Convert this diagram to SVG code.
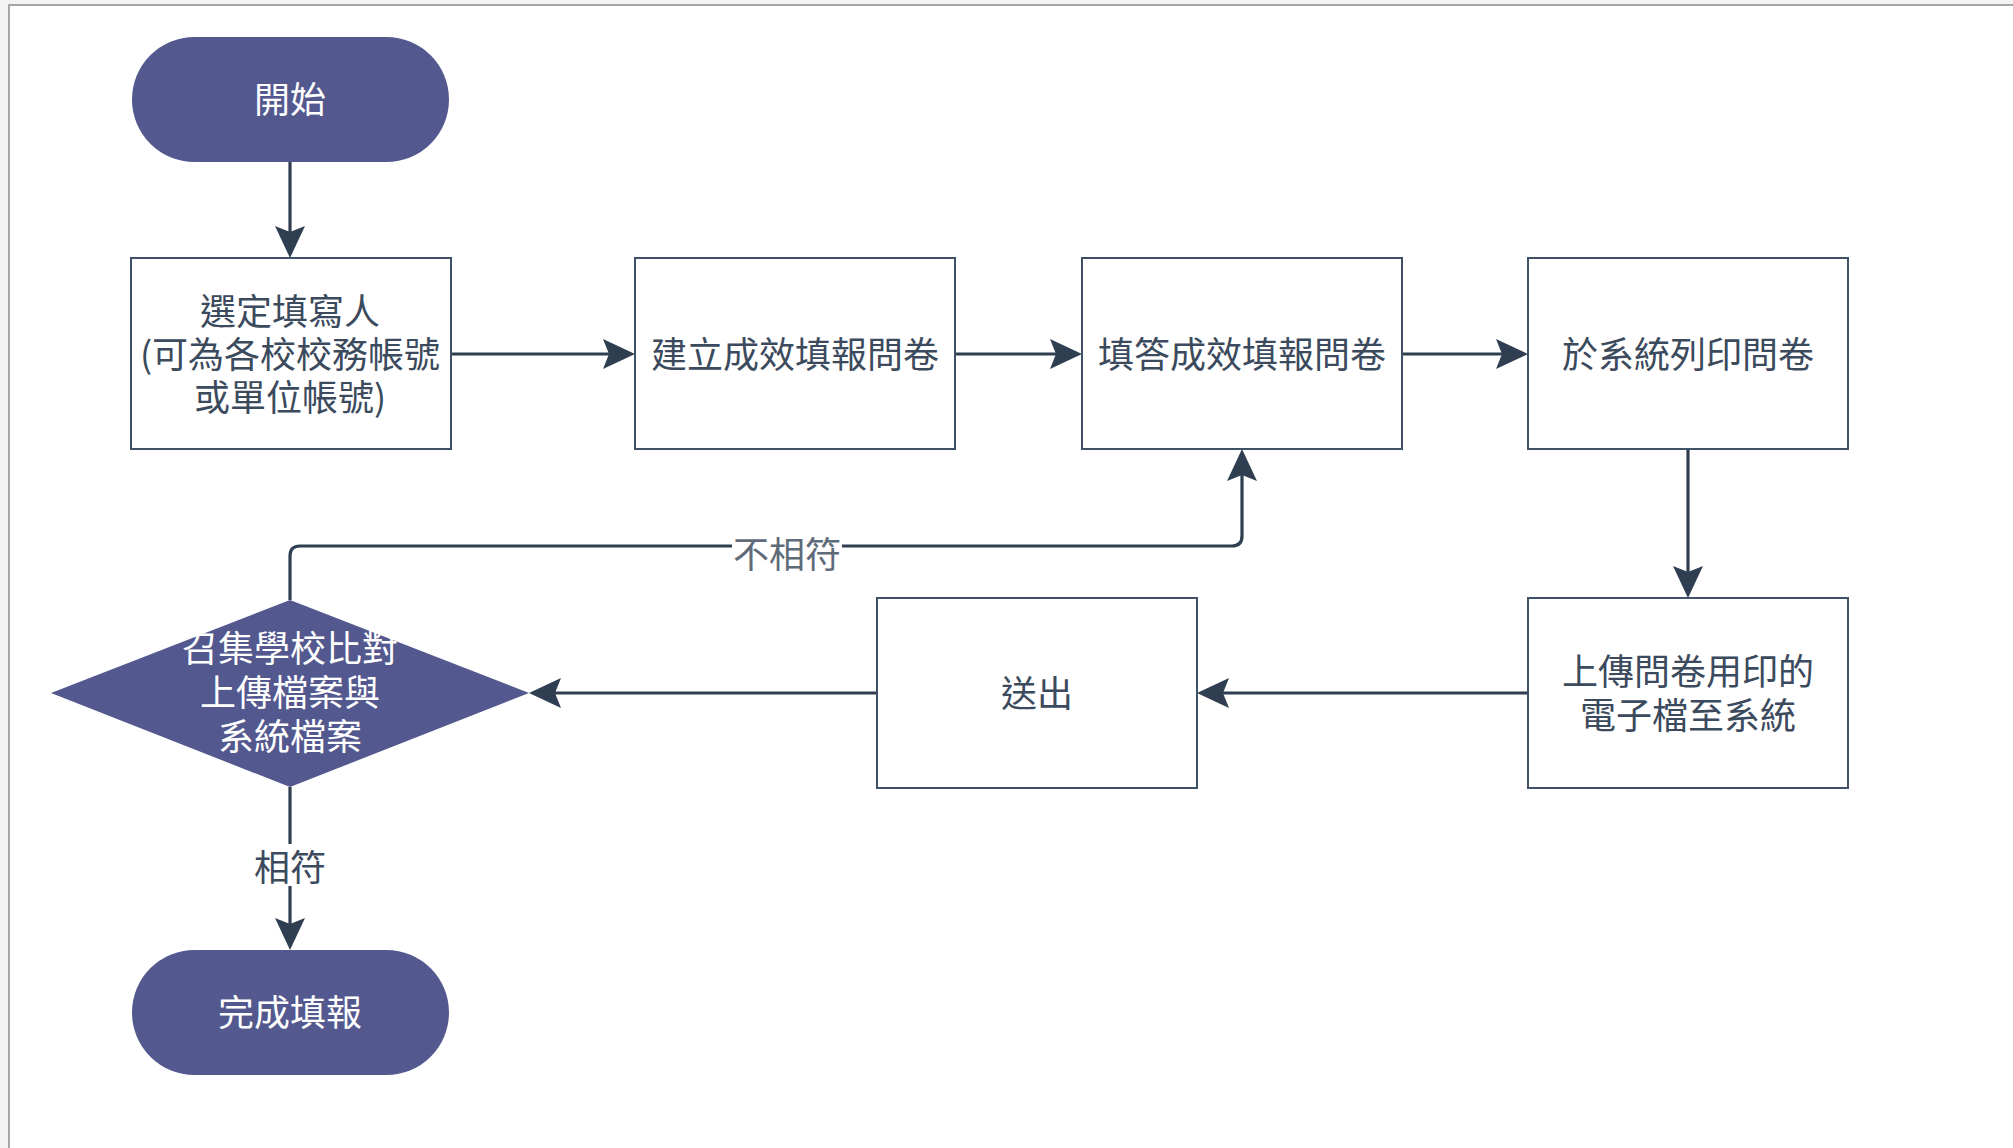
<svg xmlns="http://www.w3.org/2000/svg" width="2013" height="1148" viewBox="0 0 2013 1148">
<defs>
<style>
.term{fill:#53598f;}
.box{fill:#ffffff;stroke:#3f5166;stroke-width:2;}
.dia{fill:#53598f;}
.t{font-family:"Noto Sans CJK TC","Noto Sans CJK SC",sans-serif;font-size:36px;text-anchor:middle;dominant-baseline:central;}
.tb{fill:#3b4a5c;}
.tw{fill:#ffffff;}
.edge{fill:none;stroke:#2f3e50;stroke-width:3.2;}
.lbl{fill:#5f6b78;}
.lbl2{fill:#3b4a5c;}
</style>
<marker id="arr" viewBox="0 0 32 30" refX="27" refY="15" markerWidth="32" markerHeight="30" markerUnits="userSpaceOnUse" orient="auto">
<path d="M0,0 L32,15 L0,30 L6,15 Z" fill="#2f3e50"/>
</marker>
</defs>
<rect x="0" y="0" width="2013" height="1148" fill="#f3f3f3"/>
<rect x="9" y="5" width="2020" height="1160" fill="#ffffff" stroke="#8c8c8c" stroke-width="1.5"/>

<g id="connectors">
<line class="edge" x1="290" y1="162" x2="290" y2="253" marker-end="url(#arr)"/>
<line class="edge" x1="451" y1="354" x2="630" y2="354" marker-end="url(#arr)"/>
<line class="edge" x1="955" y1="354" x2="1077" y2="354" marker-end="url(#arr)"/>
<line class="edge" x1="1402" y1="354" x2="1523" y2="354" marker-end="url(#arr)"/>
<line class="edge" x1="1688" y1="449" x2="1688" y2="593" marker-end="url(#arr)"/>
<line class="edge" x1="1528" y1="693" x2="1202" y2="693" marker-end="url(#arr)"/>
<line class="edge" x1="877" y1="693" x2="534" y2="693" marker-end="url(#arr)"/>
<path class="edge" d="M290,600 V556 Q290,546 300,546 H1232 Q1242,546 1242,536 V454" marker-end="url(#arr)"/>
<line class="edge" x1="290" y1="787" x2="290" y2="945" marker-end="url(#arr)"/>
<rect x="732" y="532" width="110" height="40" fill="#ffffff"/>
<text class="t lbl" x="787" y="552">不相符</text>
<rect x="252" y="844" width="76" height="42" fill="#ffffff"/>
<text class="t lbl2" x="290" y="865">相符</text>
</g>

<g id="start">
<rect class="term" x="132" y="37" width="317" height="125" rx="62.5" ry="62.5"/>
<text class="t tw" x="290" y="97">開始</text>
</g>

<g id="select">
<rect class="box" x="131" y="258" width="320" height="191"/>
<text class="t tb" x="290" y="309">選定填寫人</text>
<text class="t tb" x="290" y="352">(可為各校校務帳號</text>
<text class="t tb" x="290" y="395">或單位帳號)</text>
</g>

<g id="create">
<rect class="box" x="635" y="258" width="320" height="191"/>
<text class="t tb" x="795" y="352">建立成效填報問卷</text>
</g>

<g id="answer">
<rect class="box" x="1082" y="258" width="320" height="191"/>
<text class="t tb" x="1242" y="352">填答成效填報問卷</text>
</g>

<g id="print">
<rect class="box" x="1528" y="258" width="320" height="191"/>
<text class="t tb" x="1688" y="352">於系統列印問卷</text>
</g>

<g id="upload">
<rect class="box" x="1528" y="598" width="320" height="190"/>
<text class="t tb" x="1688" y="669">上傳問卷用印的</text>
<text class="t tb" x="1688" y="713">電子檔至系統</text>
</g>

<g id="send">
<rect class="box" x="877" y="598" width="320" height="190"/>
<text class="t tb" x="1037" y="691">送出</text>
</g>

<g id="compare">
<polygon class="dia" points="290,600 529,693 290,787 51,693"/>
<text class="t tw" x="290" y="646">召集學校比對</text>
<text class="t tw" x="290" y="690">上傳檔案與</text>
<text class="t tw" x="290" y="734">系統檔案</text>
</g>

<g id="end">
<rect class="term" x="132" y="950" width="317" height="125" rx="62.5" ry="62.5"/>
<text class="t tw" x="290" y="1010">完成填報</text>
</g>
</svg>
